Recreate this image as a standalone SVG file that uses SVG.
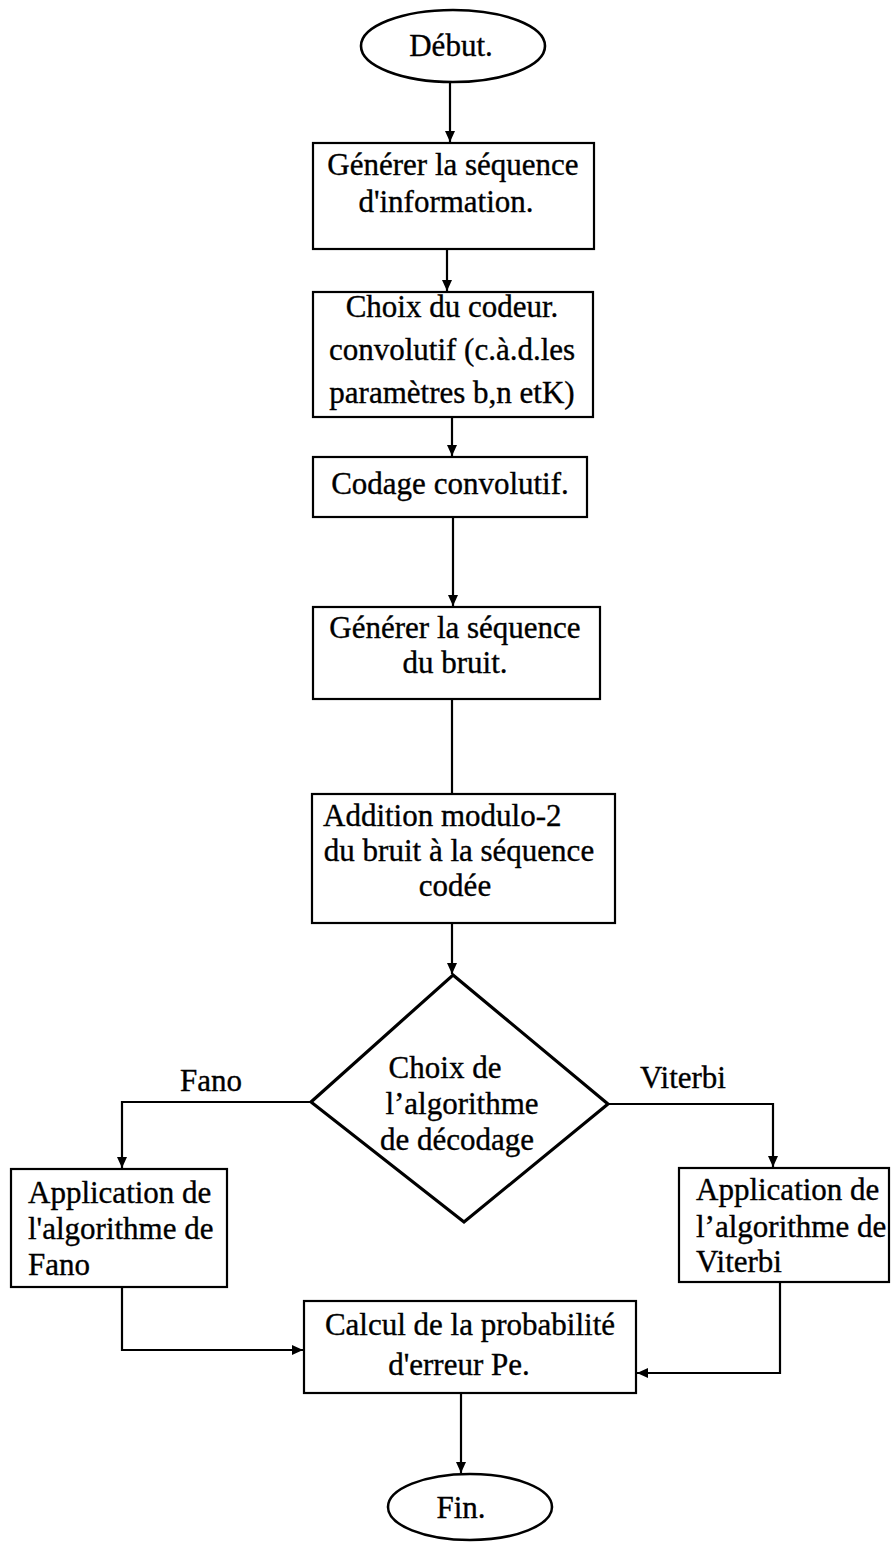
<svg xmlns="http://www.w3.org/2000/svg" width="891" height="1542" viewBox="0 0 891 1542">
  <style>
    .shape { fill: #ffffff; stroke: #000000; stroke-width: 2.2; }
    .term { fill: #ffffff; stroke: #000000; stroke-width: 2.6; }
    .decision { fill: #ffffff; stroke: #000000; stroke-width: 3.2; stroke-linejoin: miter; }
    .wire { fill: none; stroke: #000000; stroke-width: 2.2; }
    text { font-family: "Liberation Serif", "Times New Roman", serif; font-size: 31px; fill: #000000; stroke: #000000; stroke-width: 0.35; }
    .c { text-anchor: middle; }
  </style>
  <defs>
    <marker id="arrow" markerUnits="userSpaceOnUse" markerWidth="11" markerHeight="10" refX="11" refY="5" orient="auto">
      <path d="M0,0 L11,5 L0,10 z" fill="#000000"/>
    </marker>
  </defs>

  <!-- connectors -->
  <g id="connectors">
    <path class="wire" d="M450,82 V142" marker-end="url(#arrow)"/>
    <path class="wire" d="M447,249 V291" marker-end="url(#arrow)"/>
    <path class="wire" d="M452,417 V456" marker-end="url(#arrow)"/>
    <path class="wire" d="M453,517 V606" marker-end="url(#arrow)"/>
    <path class="wire" d="M452,699 V793"/>
    <path class="wire" d="M452,923 V974" marker-end="url(#arrow)"/>
    <path class="wire" d="M311,1102 H122 V1168" marker-end="url(#arrow)"/>
    <path class="wire" d="M608,1104 H773 V1167" marker-end="url(#arrow)"/>
    <path class="wire" d="M122,1287 V1350 H303" marker-end="url(#arrow)"/>
    <path class="wire" d="M780,1282 V1373 H637" marker-end="url(#arrow)"/>
    <path class="wire" d="M461,1393 V1473" marker-end="url(#arrow)"/>
  </g>

  <!-- start -->
  <g id="start">
    <ellipse class="term" cx="453" cy="46" rx="92" ry="36"/>
    <text class="c" x="451" y="56">Début.</text>
  </g>

  <g id="gen-info">
    <rect class="shape" x="313" y="143" width="281" height="106"/>
    <text class="c" x="453" y="175">Générer la séquence</text>
    <text class="c" x="446" y="212">d'information.</text>
  </g>

  <g id="encoder-choice">
    <rect class="shape" x="313" y="292" width="280" height="125"/>
    <text class="c" x="452" y="317">Choix du codeur.</text>
    <text class="c" x="452" y="360">convolutif (c.à.d.les</text>
    <text class="c" x="452" y="403">paramètres b,n etK)</text>
  </g>

  <g id="encoding">
    <rect class="shape" x="313" y="457" width="274" height="60"/>
    <text class="c" x="450" y="494">Codage convolutif.</text>
  </g>

  <g id="gen-noise">
    <rect class="shape" x="313" y="607" width="287" height="92"/>
    <text class="c" x="455" y="638">Générer la séquence</text>
    <text class="c" x="455" y="673">du bruit.</text>
  </g>

  <g id="noise-add">
    <rect class="shape" x="312" y="794" width="303" height="129"/>
    <text x="323" y="826">Addition modulo-2</text>
    <text class="c" x="459" y="861">du bruit à la séquence</text>
    <text class="c" x="455" y="896">codée</text>
  </g>

  <g id="decoder-choice">
    <polygon class="decision" points="453,975 608,1104 464,1222 311,1102"/>
    <text class="c" x="445" y="1078">Choix de</text>
    <text class="c" x="462" y="1114">l’algorithme</text>
    <text class="c" x="457" y="1150">de décodage</text>
  </g>

  <g id="label-fano">
    <text x="180" y="1091">Fano</text>
  </g>
  <g id="label-viterbi">
    <text x="640" y="1088">Viterbi</text>
  </g>

  <g id="fano">
    <rect class="shape" x="11" y="1169" width="216" height="118"/>
    <text x="28" y="1203">Application de</text>
    <text x="28" y="1239">l'algorithme de</text>
    <text x="28" y="1275">Fano</text>
  </g>

  <g id="viterbi">
    <rect class="shape" x="679" y="1168" width="210" height="114"/>
    <text x="696" y="1200">Application de</text>
    <text x="696" y="1237">l’algorithme de</text>
    <text x="696" y="1272">Viterbi</text>
  </g>

  <g id="error-rate">
    <rect class="shape" x="304" y="1301" width="332" height="92"/>
    <text class="c" x="470" y="1335">Calcul de la probabilité</text>
    <text class="c" x="459" y="1375">d'erreur Pe.</text>
  </g>

  <g id="end">
    <ellipse class="term" cx="470" cy="1507" rx="82" ry="33"/>
    <text class="c" x="461" y="1518">Fin.</text>
  </g>
</svg>
